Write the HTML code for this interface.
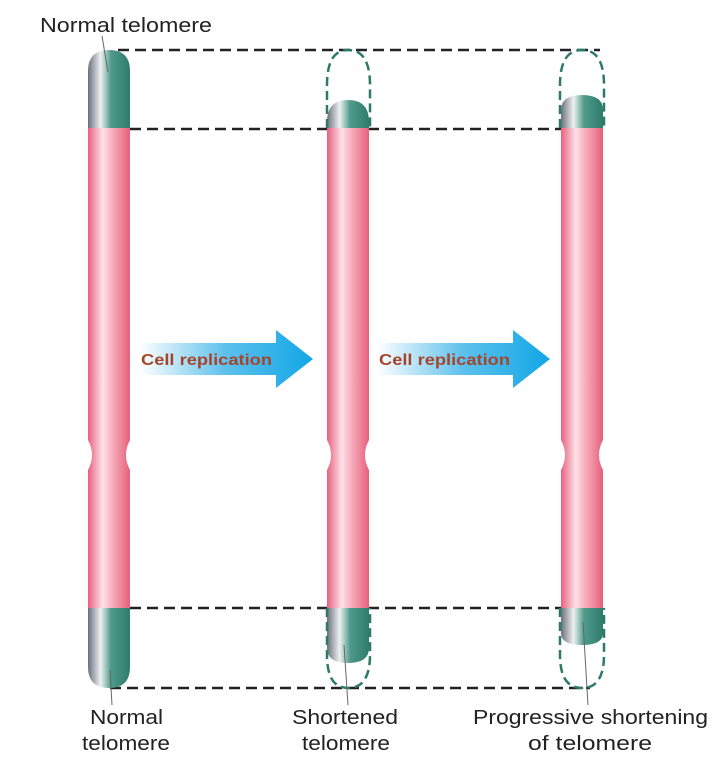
<!DOCTYPE html>
<html><head><style>body{margin:0;background:#fff}svg{display:block}</style></head><body>
<svg width="715" height="771" xmlns="http://www.w3.org/2000/svg" font-family="Liberation Sans, sans-serif">
<defs>
<linearGradient id="pk" x1="0" x2="1" y1="0" y2="0">
<stop offset="0" stop-color="#e8607e"/><stop offset="0.35" stop-color="#fde2e8"/><stop offset="0.6" stop-color="#f7a9b9"/><stop offset="1" stop-color="#e5607c"/></linearGradient>
<linearGradient id="tl" x1="0" x2="1" y1="0" y2="0">
<stop offset="0" stop-color="#6b6f7c"/><stop offset="0.3" stop-color="#eef2f0"/><stop offset="0.55" stop-color="#4f9a8a"/><stop offset="1" stop-color="#2f7b6c"/></linearGradient>
<linearGradient id="ar" x1="0" x2="1" y1="0" y2="0">
<stop offset="0" stop-color="#fff"/><stop offset="0.5" stop-color="#5cc0ec"/><stop offset="1" stop-color="#12a6e6"/></linearGradient>
</defs>
<g stroke="#222" stroke-width="2.5" stroke-dasharray="11,6" fill="none">
<line x1="118" y1="50" x2="600" y2="50"/>
<line x1="130" y1="129" x2="562" y2="129"/>
<line x1="130" y1="608" x2="562" y2="608"/>
<line x1="110" y1="688" x2="590" y2="688"/>
</g>
<g>
<path d="M88,128 L130,128 L130,440 Q122,455 130,470 L130,608 L88,608 L88,470 Q96,455 88,440 Z" fill="url(#pk)"/>
<path d="M88,128 L88,71 Q88,50 109,50 Q130,50 130,71 L130,128 Z" fill="url(#tl)"/>
<path d="M88,608 L130,608 L130,667 Q130,688 109,688 Q88,688 88,667 Z" fill="url(#tl)"/>

<path d="M327,128 L369,128 L369,440 Q361,455 369,470 L369,608 L327,608 L327,470 Q335,455 327,440 Z" fill="url(#pk)"/>
<path d="M327,128 L327,122 Q327,100 348,100 Q369,100 369,122 L369,128 Z" fill="url(#tl)"/>
<path d="M327,608 L369,608 L369,648 Q369,663 348,663 Q327,663 327,648 Z" fill="url(#tl)"/>

<path d="M561,128 L603,128 L603,440 Q595,455 603,470 L603,608 L561,608 L561,470 Q569,455 561,440 Z" fill="url(#pk)"/>
<path d="M561,128 L561,110 Q561,95 582,95 Q603,95 603,110 L603,128 Z" fill="url(#tl)"/>
<path d="M561,608 L603,608 L603,633 Q603,645 582,645 Q561,645 561,633 Z" fill="url(#tl)"/>
</g>
<g stroke="#2e7a68" stroke-width="2.5" stroke-dasharray="9,5" fill="none">
<path d="M327,128 L327,85 Q327,50 348,50 Q370,50 370,85 L370,128"/>
<path d="M327,608 L327,655 Q327,688 348,688 Q370,688 370,655 L370,608"/>
<path d="M560,128 L560,85 Q560,50 582,50 Q604,50 604,85 L604,128"/>
<path d="M560,608 L560,655 Q560,688 582,688 Q604,688 604,655 L604,608"/>
</g>
<g stroke="#666" stroke-width="1">
<line x1="102" y1="36" x2="108" y2="72"/>
<line x1="110" y1="670" x2="112" y2="705"/>
<line x1="344" y1="645" x2="348" y2="705"/>
<line x1="583" y1="622" x2="588" y2="705"/>
</g>
<path d="M140,343 L276,343 L276,330 L313,359 L276,388 L276,375 L140,375 Z" fill="url(#ar)"/>
<path d="M377,343 L513,343 L513,330 L550,359 L513,388 L513,375 L377,375 Z" fill="url(#ar)"/>
<g font-weight="bold" font-size="16" fill="#a5452c">
<text x="141" y="365" textLength="131" lengthAdjust="spacingAndGlyphs">Cell replication</text>
<text x="379" y="365" textLength="131" lengthAdjust="spacingAndGlyphs">Cell replication</text>
</g>
<g font-size="20" fill="#222" lengthAdjust="spacingAndGlyphs">
<text x="40" y="32" textLength="172" lengthAdjust="spacingAndGlyphs">Normal telomere</text>
<text x="90" y="724" textLength="73" lengthAdjust="spacingAndGlyphs">Normal</text>
<text x="82" y="750" textLength="88" lengthAdjust="spacingAndGlyphs">telomere</text>
<text x="292" y="724" textLength="106" lengthAdjust="spacingAndGlyphs">Shortened</text>
<text x="302" y="750" textLength="88" lengthAdjust="spacingAndGlyphs">telomere</text>
<text x="473" y="724" textLength="235" lengthAdjust="spacingAndGlyphs">Progressive shortening</text>
<text x="528" y="750" textLength="124" lengthAdjust="spacingAndGlyphs">of  telomere</text>
</g>
</svg>
</body></html>
